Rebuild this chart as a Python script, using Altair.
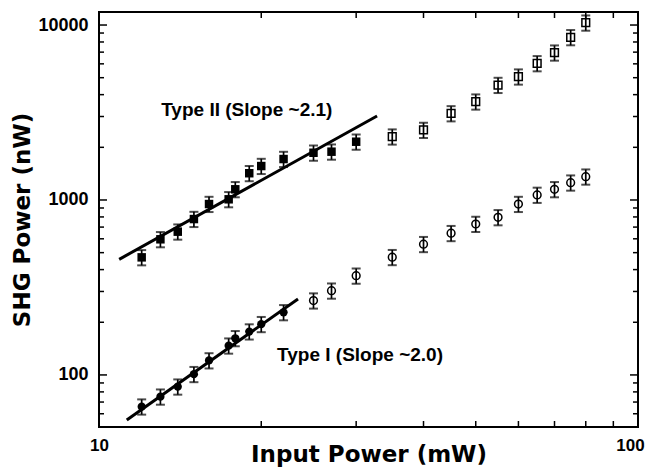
import altair as alt
import pandas as pd

# ---- data ----
# Type II (filled squares, fitted)
t2_fill_x = [12, 13, 14, 15, 16, 17.4, 17.9, 19, 20, 22, 25, 27, 30]
t2_fill_y = [470, 596, 659, 778, 948, 1009, 1151, 1422, 1563, 1714, 1862, 1888, 2153]
# Type II (open squares)
t2_open_x = [35, 40, 45, 50, 55, 60, 65, 70, 75, 80]
t2_open_y = [2302, 2512, 3126, 3648, 4540, 5070, 6040, 6950, 8510, 10310]
# Type I (filled circles, fitted)
t1_fill_x = [12, 13, 14, 15, 16, 17.4, 17.9, 19, 20, 22]
t1_fill_y = [65.9, 75.1, 85.7, 101, 121, 147, 162, 177, 195, 228]
# Type I (open circles)
t1_open_x = [25, 27, 30, 35, 40, 45, 50, 55, 60, 65, 70, 75, 80]
t1_open_y = [266, 303, 369, 471, 559, 646, 729, 796, 948, 1069, 1151, 1256, 1359]
# relative error bar size
rel_err = [0.10]

# fit lines (end points)
fit2_x = [10.9, 32.8]
fit2_y = [458, 3020]
fit1_x = [11.26, 23.4]
fit1_y = [55.3, 272]

# annotations
ann_text = ["Type II (Slope ~2.1)", "Type I (Slope ~2.0)"]
ann_x = [18.8, 30.5]
ann_y = [3268, 130]

# axis ticks
x_labels = [10, 100]
x_minor = [20, 30, 40, 50, 60, 70, 80, 90]
y_labels = [100, 1000, 10000]
y_minor = [60, 70, 80, 90, 200, 300, 400, 500, 600, 700, 800, 900,
           2000, 3000, 4000, 5000, 6000, 7000, 8000, 9000]

W, H = 539, 415
FONT = "Liberation Sans"
TFONT = "DejaVu Sans"


def pts(xs, ys):
    e = rel_err[0]
    return pd.DataFrame({"x": xs, "y": ys,
                         "lo": [v * (1 - e) for v in ys],
                         "hi": [v * (1 + e) for v in ys]})


xs = alt.Scale(type="log", domain=[10, 100], nice=False)
ys = alt.Scale(type="log", domain=[50.4, 11870], nice=False)
xaxis = alt.Axis(values=x_labels, format="d", ticks=False, domain=False, grid=False,
                 labelFont=FONT, labelFontWeight="bold", labelFontSize=17,
                 labelColor="black", labelPadding=10, labelFlush=False, labelOverlap=False,
                 labelOffset={"condition": {"test": "datum.value >= 100", "value": -8},
                              "value": 0},
                 title="Input Power (mW)", titleFont=TFONT, titleFontWeight="bold",
                 titleFontSize=23, titleColor="black", titleBaseline="alphabetic",
                 titleY=34, titleX=W / 2, titleAnchor="middle")
yaxis = alt.Axis(values=y_labels, format="d", ticks=False, domain=False, grid=False,
                 labelFont=FONT, labelFontWeight="bold", labelFontSize=18,
                 labelColor="black", labelPadding=11, labelFlush=False, labelOverlap=False,
                 title="SHG Power (nW)", titleFont=TFONT, titleFontWeight="bold",
                 titleFontSize=23, titleColor="black", titleAngle=-90,
                 titleBaseline="alphabetic", titleAlign="center",
                 titleX=-70, titleY=H / 2)


def X(f="x"):
    return alt.X(f, type="quantitative", scale=xs, axis=xaxis)


def Y(f="y"):
    return alt.Y(f, type="quantitative", scale=ys, axis=yaxis)


d2f = pts(t2_fill_x, t2_fill_y)
d2o = pts(t2_open_x, t2_open_y)
d1f = pts(t1_fill_x, t1_fill_y)
d1o = pts(t1_open_x, t1_open_y)
alld = pd.concat([d2f, d2o, d1f, d1o], ignore_index=True)

err = alt.Chart(alld).mark_rule(color="black", strokeWidth=1.7).encode(
    x=X(), y=Y("lo"), y2="hi")
cap_lo = alt.Chart(alld).mark_tick(color="black", orient="horizontal", size=9,
                                   thickness=2).encode(x=X(), y=Y("lo"))
cap_hi = alt.Chart(alld).mark_tick(color="black", orient="horizontal", size=9,
                                   thickness=2).encode(x=X(), y=Y("hi"))

sq_f = alt.Chart(d2f).mark_point(shape="square", filled=True, size=72, color="black",
                                 opacity=1).encode(x=X(), y=Y())
sq_o = alt.Chart(d2o).mark_point(shape="square", filled=False, size=60, color="black",
                                 strokeWidth=1.5, opacity=1).encode(x=X(), y=Y())
ci_f = alt.Chart(d1f).mark_point(shape="circle", filled=True, size=68, color="black",
                                 opacity=1).encode(x=X(), y=Y())
ci_o = alt.Chart(d1o).mark_point(shape="circle", filled=False, size=60, color="black",
                                 strokeWidth=1.5, opacity=1).encode(x=X(), y=Y())

fits = pd.DataFrame({"x": fit2_x + fit1_x, "y": fit2_y + fit1_y,
                     "s": ["II", "II", "I", "I"]})
fit = alt.Chart(fits).mark_line(color="black", strokeWidth=3).encode(
    x=X(), y=Y(), detail="s:N")

ann = alt.Chart(pd.DataFrame({"x": ann_x, "y": ann_y, "t": ann_text})).mark_text(
    font=FONT, fontWeight="bold", fontSize=19, color="black", baseline="middle",
    align="center").encode(x=X(), y=Y(), text="t:N")

xm = pd.DataFrame({"x": x_minor})
ymj = pd.DataFrame({"y": y_labels})
ymn = pd.DataFrame({"y": y_minor})
tk = dict(color="black", strokeWidth=1.5)
t_xb = alt.Chart(xm).mark_rule(**tk).encode(x=X(), y=alt.value(H), y2=alt.value(H - 6))
t_xt = alt.Chart(xm).mark_rule(**tk).encode(x=X(), y=alt.value(0), y2=alt.value(6))
t_yl = alt.Chart(ymj).mark_rule(**tk).encode(y=Y(), x=alt.value(0), x2=alt.value(8))
t_yr = alt.Chart(ymj).mark_rule(**tk).encode(y=Y(), x=alt.value(W), x2=alt.value(W - 8))
t_yl2 = alt.Chart(ymn).mark_rule(**tk).encode(y=Y(), x=alt.value(0), x2=alt.value(5))
t_yr2 = alt.Chart(ymn).mark_rule(**tk).encode(y=Y(), x=alt.value(W), x2=alt.value(W - 5))

chart = alt.layer(
    t_xb, t_xt, t_yl, t_yr, t_yl2, t_yr2,
    fit, err, cap_lo, cap_hi, sq_f, sq_o, ci_f, ci_o, ann
).properties(
    width=W, height=H,
    autosize=alt.AutoSizeParams(type="none"),
    padding={"left": 91, "top": 4, "right": 7, "bottom": 41},
    background="white",
).configure_view(stroke="black", strokeWidth=2)

chart.save("out.html", embed_options={"renderer": "svg", "actions": False})
